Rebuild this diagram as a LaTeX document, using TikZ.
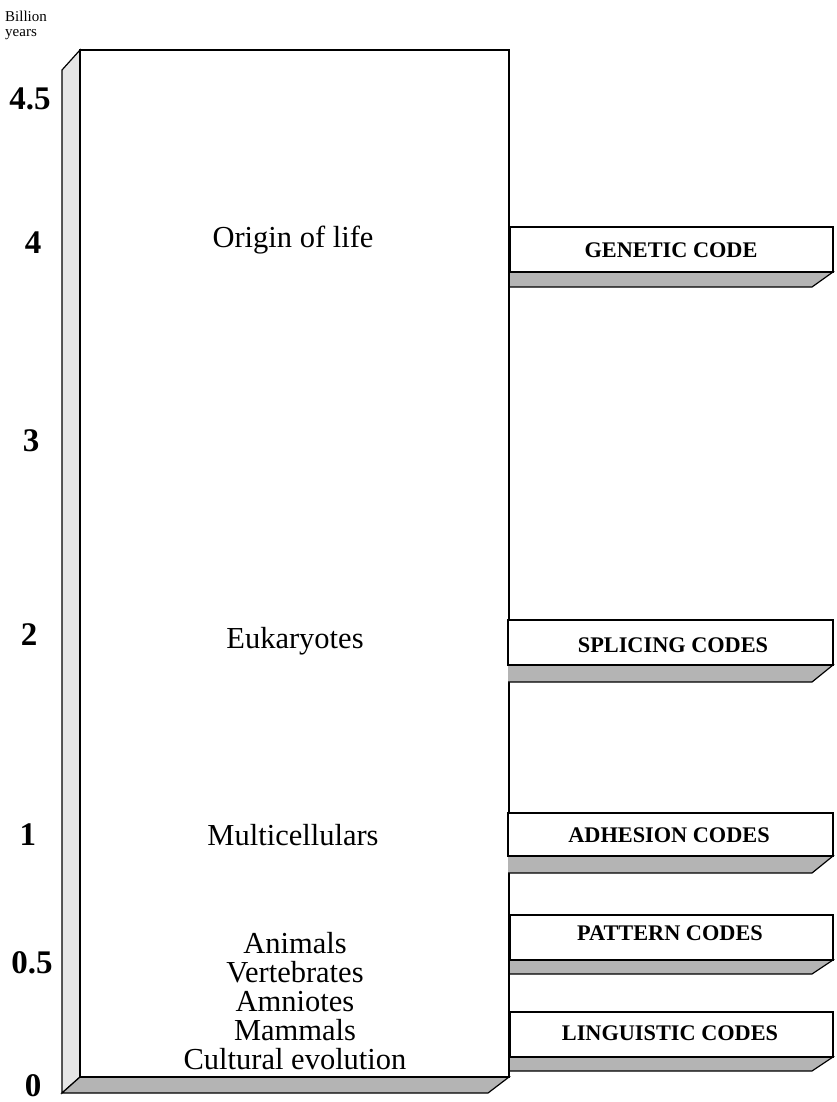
\documentclass[tikz,border=0pt]{standalone}
\usepackage{fontspec}
\setmainfont{Liberation Serif}
\definecolor{sidegray}{HTML}{E6E6E6}
\definecolor{shadegray}{HTML}{B4B4B4}
\tikzset{
  edge/.style={draw=black, line width=1.2pt, line join=miter},
  era/.style={anchor=base, inner sep=0pt, font=\fontsize{30.5}{30}\selectfont},
  yearlbl/.style={anchor=base, inner sep=0pt, font=\fontsize{33}{33}\selectfont\bfseries},
  codelbl/.style={anchor=base, inner sep=0pt, font=\fontsize{22.3}{22}\selectfont\bfseries},
  unitlbl/.style={anchor=base west, inner sep=0pt, align=left, font=\fontsize{15}{15}\selectfont}
}
\newcommand{\codebox}[4]{% left x, top y, bottom y, shadow bottom y
  \fill[shadegray] (#1,#3) -- (833,#3) -- (812,#4) -- (#1,#4) -- cycle;
  \draw[edge] (#1,#3) -- (833,#3) -- (812,#4) -- (#1,#4);
  \draw[edge, fill=white] (#1,#2) rectangle (833,#3);
}
\begin{document}
\begin{tikzpicture}[x=1pt, y=-1pt]
\useasboundingbox (0,0) rectangle (837,1102);
% main box: left face
\draw[edge, fill=sidegray] (62,70) -- (80,50) -- (80,1077) -- (62,1093) -- cycle;
% bottom face
\draw[edge, fill=shadegray] (62,1093) -- (80,1077) -- (509,1077) -- (488,1093) -- cycle;
% front face
\draw[edge, fill=white] (80,50) rectangle (509,1077);
% code boxes
\codebox{510}{227}{272}{287}
\codebox{508}{620}{665}{682}
\codebox{508}{813}{856}{873}
\codebox{510}{915}{960}{974}
\codebox{510}{1012}{1057}{1071}
% unit label
\node[unitlbl] (unit1) at (5,22) {Billion};
\node[unitlbl] (unit2) at (5,37) {years};
% year labels
\node[yearlbl] (y45) at (30,110) {4.5};
\node[yearlbl] (y4) at (33,253) {4};
\node[yearlbl] (y3) at (31,451) {3};
\node[yearlbl] (y2) at (29,645) {2};
\node[yearlbl] (y1) at (28,845) {1};
\node[yearlbl] (y05) at (32,973) {0.5};
\node[yearlbl] (y0) at (33,1096) {0};
% era labels
\node[era] (origin) at (293,247) {Origin of life};
\node[era] (euk) at (295,648) {Eukaryotes};
\node[era] (multi) at (293,845) {Multicellulars};
\node[era] (animals) at (295,953) {Animals};
\node[era] (vert) at (295,982) {Vertebrates};
\node[era] (amnio) at (295,1011) {Amniotes};
\node[era] (mamm) at (295,1040) {Mammals};
\node[era] (cult) at (295,1069) {Cultural evolution};
% code labels
\node[codelbl] (gen) at (671,257) {GENETIC CODE};
\node[codelbl] (spl) at (673,652) {SPLICING CODES};
\node[codelbl] (adh) at (669,842) {ADHESION CODES};
\node[codelbl] (pat) at (670,940) {PATTERN CODES};
\node[codelbl] (ling) at (670,1040) {LINGUISTIC CODES};
\end{tikzpicture}
\end{document}
